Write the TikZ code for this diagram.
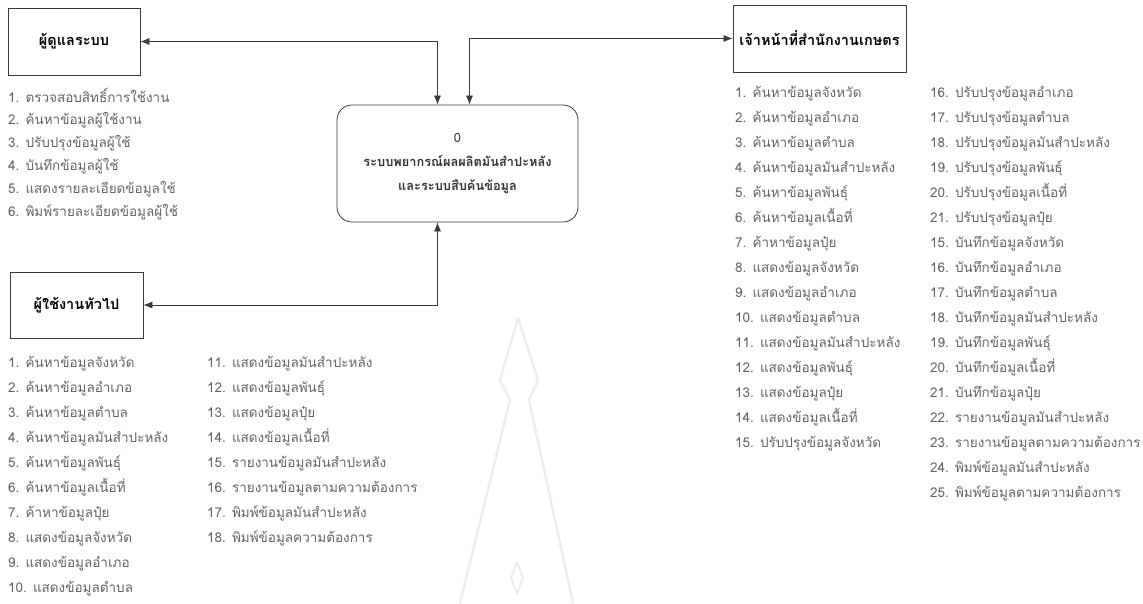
\documentclass[tikz,border=0pt]{standalone}
\usepackage{fontspec}
\newfontfamily\thai[Script=Thai]{Loma}
\usetikzlibrary{arrows.meta}
\definecolor{listgray}{HTML}{646464}
\definecolor{linegray}{HTML}{3A3A3A}
\definecolor{faint}{HTML}{EDEDED}
\begin{document}
\begin{tikzpicture}[x=1pt,y=-1pt,
  entity/.style={draw=linegray,line width=0.8pt,font=\thai\bfseries\fontsize{14.5}{16}\selectfont,inner sep=0pt},
  process/.style={draw=linegray,line width=0.8pt,rounded corners=15pt,align=center,inner sep=0pt,
    text=black!80,font=\thai\bfseries\fontsize{12.8}{24}\selectfont,minimum width=241pt,minimum height=117pt},
  item/.style={anchor=base west,inner sep=0pt,text=listgray,font=\thai\fontsize{13.5}{15}\selectfont},
  flow/.style={draw=linegray,line width=0.7pt,{Latex[length=9pt,width=7pt]}-{Latex[length=9pt,width=7pt]}},
  mark line/.style={draw=faint,line width=2.5pt,line join=round}]
\useasboundingbox (0,0) rectangle (1143,603);

% faint spire emblem in the background
\draw[mark line] (460,603) -- (510,400) -- (500,380) -- (518,318) -- (538,380) -- (529,400) -- (573,603);
\draw[mark line,line width=2pt] (517,562) -- (523,578) -- (517,594) -- (511,578) -- cycle;

% external entities and the context process
\node[entity,minimum width=132pt,minimum height=67pt] (admin) at (74,41.5) {ผู้ดูแลระบบ};
\node[entity,minimum width=173pt,minimum height=67pt] (officer) at (819.5,38.5) {เจ้าหน้าที่สำนักงานเกษตร};
\node[entity,minimum width=133pt,minimum height=66pt] (user) at (76.5,305) {ผู้ใช้งานทัวไป};
\node[process] (sys) at (457.5,163.5) {{\mdseries 0}\\ระบบพยากรณ์ผลผลิตมันสำปะหลัง\\และระบบสืบค้นข้อมูล};

% data flows
\draw[flow] (admin.east) -| ([xshift=-20pt]sys.north);
\draw[flow] ([xshift=12pt]sys.north) |- (officer.west);
\draw[flow] (user.east) -| ([xshift=-20pt]sys.south);

% administrator functions
\foreach \t [count=\i] in {1. ตรวจสอบสิทธิ์การใช้งาน, 2. ค้นหาข้อมูลผู้ใช้งาน, 3. ปรับปรุงข้อมูลผู้ใช้,
  4. บันทึกข้อมูลผู้ใช้, 5. แสดงรายละเอียดข้อมูลใช้, 6. พิมพ์รายละเอียดข้อมูลผู้ใช้}
  \node[item] (a\i) at (8,{102+22.8*(\i-1)}) {\t};

% general user functions
\foreach \t [count=\i] in {1. ค้นหาข้อมูลจังหวัด, 2. ค้นหาข้อมูลอำเภอ, 3. ค้นหาข้อมูลตำบล,
  4. ค้นหาข้อมูลมันสำปะหลัง, 5. ค้นหาข้อมูลพันธุ์, 6. ค้นหาข้อมูลเนื้อที่, 7. ค้าหาข้อมูลปุ๋ย,
  8. แสดงข้อมูลจังหวัด, 9. แสดงข้อมูลอำเภอ, 10. แสดงข้อมูลตำบล}
  \node[item] (u\i) at (8,{367+25*(\i-1)}) {\t};
\foreach \t [count=\i] in {11. แสดงข้อมูลมันสำปะหลัง, 12. แสดงข้อมูลพันธุ์, 13. แสดงข้อมูลปุ๋ย,
  14. แสดงข้อมูลเนื้อที่, 15. รายงานข้อมูลมันสำปะหลัง, 16. รายงานข้อมูลตามความต้องการ,
  17. พิมพ์ข้อมูลมันสำปะหลัง, 18. พิมพ์ข้อมูลความต้องการ}
  \node[item] (v\i) at (207,{367+25*(\i-1)}) {\t};

% agricultural office staff functions
\foreach \t [count=\i] in {1. ค้นหาข้อมูลจังหวัด, 2. ค้นหาข้อมูลอำเภอ, 3. ค้นหาข้อมูลตำบล,
  4. ค้นหาข้อมูลมันสำปะหลัง, 5. ค้นหาข้อมูลพันธุ์, 6. ค้นหาข้อมูลเนื้อที่, 7. ค้าหาข้อมูลปุ๋ย,
  8. แสดงข้อมูลจังหวัด, 9. แสดงข้อมูลอำเภอ, 10. แสดงข้อมูลตำบล, 11. แสดงข้อมูลมันสำปะหลัง,
  12. แสดงข้อมูลพันธุ์, 13. แสดงข้อมูลปุ๋ย, 14. แสดงข้อมูลเนื้อที่, 15. ปรับปรุงข้อมูลจังหวัด}
  \node[item] (o\i) at (735,{97+25*(\i-1)}) {\t};
\foreach \t [count=\i] in {16. ปรับปรุงข้อมูลอำเภอ, 17. ปรับปรุงข้อมูลตำบล, 18. ปรับปรุงข้อมูลมันสำปะหลัง,
  19. ปรับปรุงข้อมูลพันธุ์, 20. ปรับปรุงข้อมูลเนื้อที่, 21. ปรับปรุงข้อมูลปุ๋ย,
  15. บันทึกข้อมูลจังหวัด, 16. บันทึกข้อมูลอำเภอ, 17. บันทึกข้อมูลตำบล, 18. บันทึกข้อมูลมันสำปะหลัง,
  19. บันทึกข้อมูลพันธุ์, 20. บันทึกข้อมูลเนื้อที่, 21. บันทึกข้อมูลปุ๋ย,
  22. รายงานข้อมูลมันสำปะหลัง, 23. รายงานข้อมูลตามความต้องการ,
  24. พิมพ์ข้อมูลมันสำปะหลัง, 25. พิมพ์ข้อมูลตามความต้องการ}
  \node[item] (p\i) at (930,{97+25*(\i-1)}) {\t};
\end{tikzpicture}
\end{document}
